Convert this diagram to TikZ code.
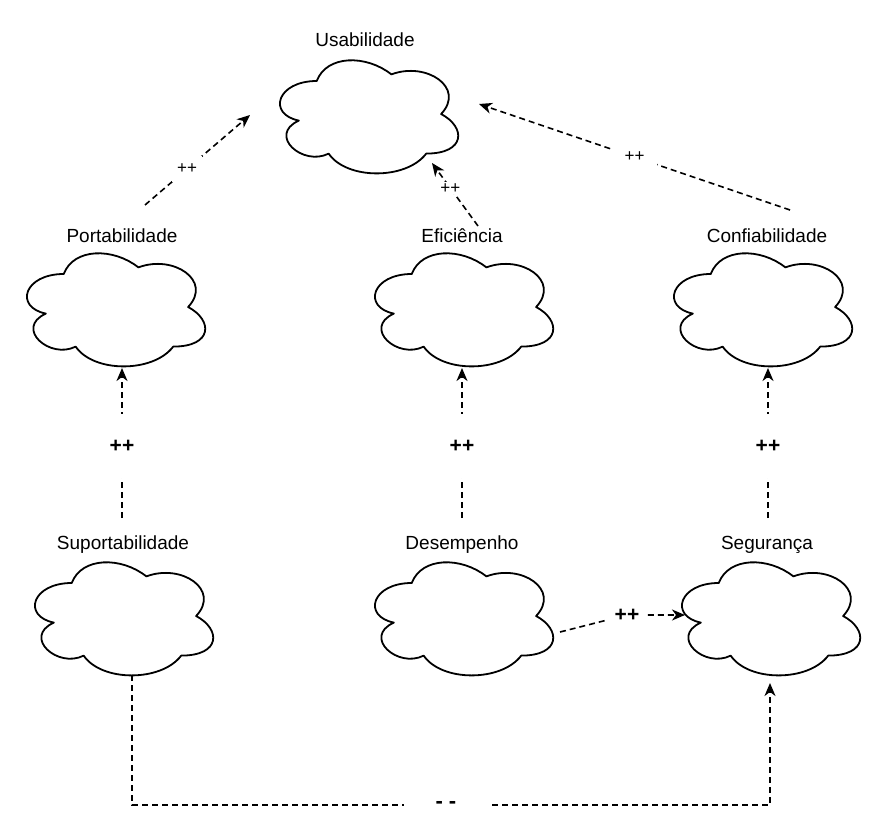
\documentclass[tikz,border=0pt]{standalone}
\usepackage{fontspec}
\setmainfont{Liberation Sans}
\usetikzlibrary{arrows.meta}
\begin{document}
\begin{tikzpicture}[x=1pt,y=-1pt,
  cloudbox/.style={minimum width=199pt,minimum height=132pt,inner sep=0pt,anchor=north west,draw=none},
  cloud/.pic={\draw[line width=1.8pt,line join=round,fill=white] (49.75,33) .. controls (9.95,33) and (0,66) .. (31.84,72.6)
        .. controls (0,87.12) and (35.82,118.8) .. (61.69,105.6)
        .. controls (79.6,132) and (139.3,132) .. (159.2,105.6)
        .. controls (199,105.6) and (199,79.2) .. (174.125,66)
        .. controls (199,39.6) and (159.2,13.2) .. (124.375,26.4)
        .. controls (99.5,6.6) and (59.7,6.6) .. (49.75,33) -- cycle;},
  title/.style={anchor=base,inner sep=0pt,font=\fontsize{19}{22}\selectfont},
  conn/.style={line width=1.6pt,dash pattern=on 6pt off 4pt,-{Stealth[length=13pt,width=11pt,inset=4pt]}},
  lblsmall/.style={fill=white,inner sep=1pt,font=\fontsize{17}{20}\selectfont},
  lblbold/.style={fill=white,inner sep=1pt,font=\fontsize{21}{22}\selectfont\bfseries},
]
\useasboundingbox (0,0) rectangle (886,832);

% clouds
\pic at (267,48) {cloud};  \node[cloudbox] (usab) at (267,48) {};
\pic at (14,241) {cloud};  \node[cloudbox] (port) at (14,241) {};
\pic at (362,241) {cloud}; \node[cloudbox] (efic) at (362,241) {};
\pic at (661,241) {cloud}; \node[cloudbox] (conf) at (661,241) {};
\pic at (22,550) {cloud};  \node[cloudbox] (supo) at (22,550) {};
\pic at (362,550) {cloud}; \node[cloudbox] (dese) at (362,550) {};
\pic at (669,550) {cloud}; \node[cloudbox] (segu) at (669,550) {};

% titles
\node[title] (usabT) at (365,47) {Usabilidade};
\node[title] (portT) at (122,242) {Portabilidade};
\node[title] (eficT) at (462,242) {Eficiência};
\node[title] (confT) at (767,242) {Confiabilidade};
\node[title] (supoT) at (123,549) {Suportabilidade};
\node[title] (deseT) at (462,549) {Desempenho};
\node[title] (seguT) at (767,549) {Segurança};

% connector end points
\coordinate (portOut) at (145,205);
\coordinate (usabInL) at (250,115);
\coordinate (eficOut) at (478,226);
\coordinate (usabInB) at (432,163);
\coordinate (confOut) at (790,210);
\coordinate (usabInR) at (479,104);
\coordinate (supoOut) at (122,518);
\coordinate (portIn) at (122,368);
\coordinate (deseOut) at (462,518);
\coordinate (eficIn) at (462,368);
\coordinate (seguOut) at (768,518);
\coordinate (confIn) at (768,368);
\coordinate (deseRight) at (560,632);
\coordinate (deseBend) at (627,615);
\coordinate (seguInL) at (685,615);
\coordinate (supoBottom) at (132,675);
\coordinate (cornerL) at (132,805);
\coordinate (cornerR) at (770,805);
\coordinate (seguInB) at (770,683);

% connectors
\draw[conn] (portOut) -- node[lblsmall,pos=0.4,minimum width=30pt,minimum height=26pt] {++} (usabInL);
\draw[conn] (eficOut) -- node[lblsmall,pos=0.6] {++} (usabInB);
\draw[conn] (confOut) -- node[lblsmall,pos=0.5,minimum width=44pt,minimum height=20pt] {++} (usabInR);
\draw[conn] (supoOut) -- node[lblbold,pos=0.48,minimum height=64pt] {++} (portIn);
\draw[conn] (deseOut) -- node[lblbold,pos=0.48,minimum height=64pt] {++} (eficIn);
\draw[conn] (seguOut) -- node[lblbold,pos=0.48,minimum height=64pt] {++} (confIn);
\draw[conn] (deseRight) -- (deseBend) node[lblbold,minimum width=40pt] {++} -- (seguInL);
\draw[conn] (supoBottom) -- (cornerL) -- node[lblbold,pos=0.492,minimum width=84pt,font=\fontsize{22}{22}\selectfont\bfseries] {- -} (cornerR) -- (seguInB);
\end{tikzpicture}
\end{document}
